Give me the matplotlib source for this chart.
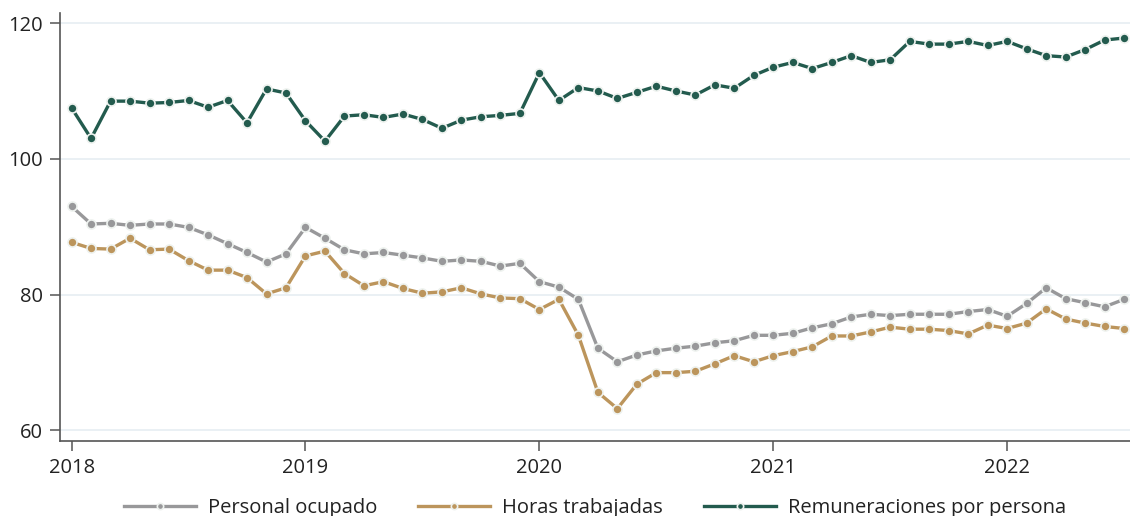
import numpy as np
import matplotlib.pyplot as plt

# indices mensuales, ene-2018 a jul-2022
years = [2018, 2019, 2020, 2021, 2022]

personal_ocupado = [
    93.0, 90.4, 90.5, 90.2, 90.4, 90.4, 89.9, 88.8, 87.5, 86.2, 84.8, 86.0,
    89.9, 88.3, 86.6, 86.0, 86.2, 85.8, 85.4, 84.9, 85.1, 84.9, 84.2, 84.6,
    81.9, 81.1, 79.3, 72.1, 70.1, 71.1, 71.7, 72.1, 72.4, 72.9, 73.2, 74.0,
    74.0, 74.3, 75.1, 75.7, 76.7, 77.1, 76.9, 77.1, 77.1, 77.1, 77.5, 77.8,
    76.8, 78.7, 81.0, 79.4, 78.8, 78.2, 79.3,
]

horas_trabajadas = [
    87.7, 86.8, 86.7, 88.3, 86.6, 86.7, 85.0, 83.6, 83.6, 82.5, 80.1, 81.0,
    85.7, 86.4, 83.1, 81.3, 81.9, 80.9, 80.2, 80.4, 81.0, 80.1, 79.5, 79.4,
    77.8, 79.3, 74.0, 65.6, 63.2, 66.8, 68.5, 68.5, 68.7, 69.8, 71.0, 70.1,
    71.0, 71.6, 72.3, 73.9, 73.9, 74.5, 75.2, 74.9, 74.9, 74.7, 74.2, 75.5,
    75.0, 75.8, 77.9, 76.4, 75.8, 75.3, 75.0,
]

remuneraciones = [
    107.5, 103.0, 108.5, 108.5, 108.2, 108.3, 108.6, 107.6, 108.6, 105.3, 110.3, 109.7,
    105.6, 102.6, 106.3, 106.5, 106.1, 106.6, 105.8, 104.5, 105.7, 106.2, 106.4, 106.7,
    112.7, 108.6, 110.5, 110.0, 108.9, 109.8, 110.7, 110.0, 109.4, 110.9, 110.4, 112.3,
    113.5, 114.2, 113.3, 114.2, 115.2, 114.2, 114.6, 117.3, 116.9, 116.9, 117.3, 116.7,
    117.3, 116.2, 115.2, 115.0, 116.1, 117.5, 117.8,
]

series = [
    ("Personal ocupado", personal_ocupado, "#98989a"),
    ("Horas trabajadas", horas_trabajadas, "#bc955c"),
    ("Remuneraciones por persona", remuneraciones, "#235b4e"),
]

plt.rcParams['font.family'] = ['Open Sans', 'DejaVu Sans']

fig = plt.figure(figsize=(11.3, 5.16), dpi=100)
ax = fig.add_axes([0.053, 0.145, 0.947, 0.83])

months = np.arange(len(remuneraciones))
for label, vals, color in series:
    ax.plot(months, vals, color=color, lw=2.4, marker='o', ms=6.5,
            mfc=color, mec='#eef2ef', mew=1.2, label=label, zorder=3)

ax.set_xlim(-0.6, 54.3)
ax.set_ylim(58.4, 121.5)
ax.set_yticks([60, 80, 100, 120])
ax.set_xticks([12 * i for i in range(len(years))])
ax.set_xticklabels([str(y) for y in years])
ax.yaxis.grid(True, color='#e6edf2', lw=1.2, zorder=0)

for side in ['top', 'right']:
    ax.spines[side].set_visible(False)
for side in ['left', 'bottom']:
    ax.spines[side].set_color('#555555')
    ax.spines[side].set_linewidth(1.2)
ax.tick_params(axis='both', direction='out', length=7, width=1.1,
               color='#555555', labelsize=14.5, labelcolor='#222222', pad=5)

ax.legend(loc='upper center', bbox_to_anchor=(0.5, -0.09), ncol=3,
          frameon=False, fontsize=14.5, handlelength=3.6, columnspacing=2.0,
          handletextpad=0.6, labelcolor='#222222', markerscale=0.7)

fig.savefig('out.png', dpi=100)
